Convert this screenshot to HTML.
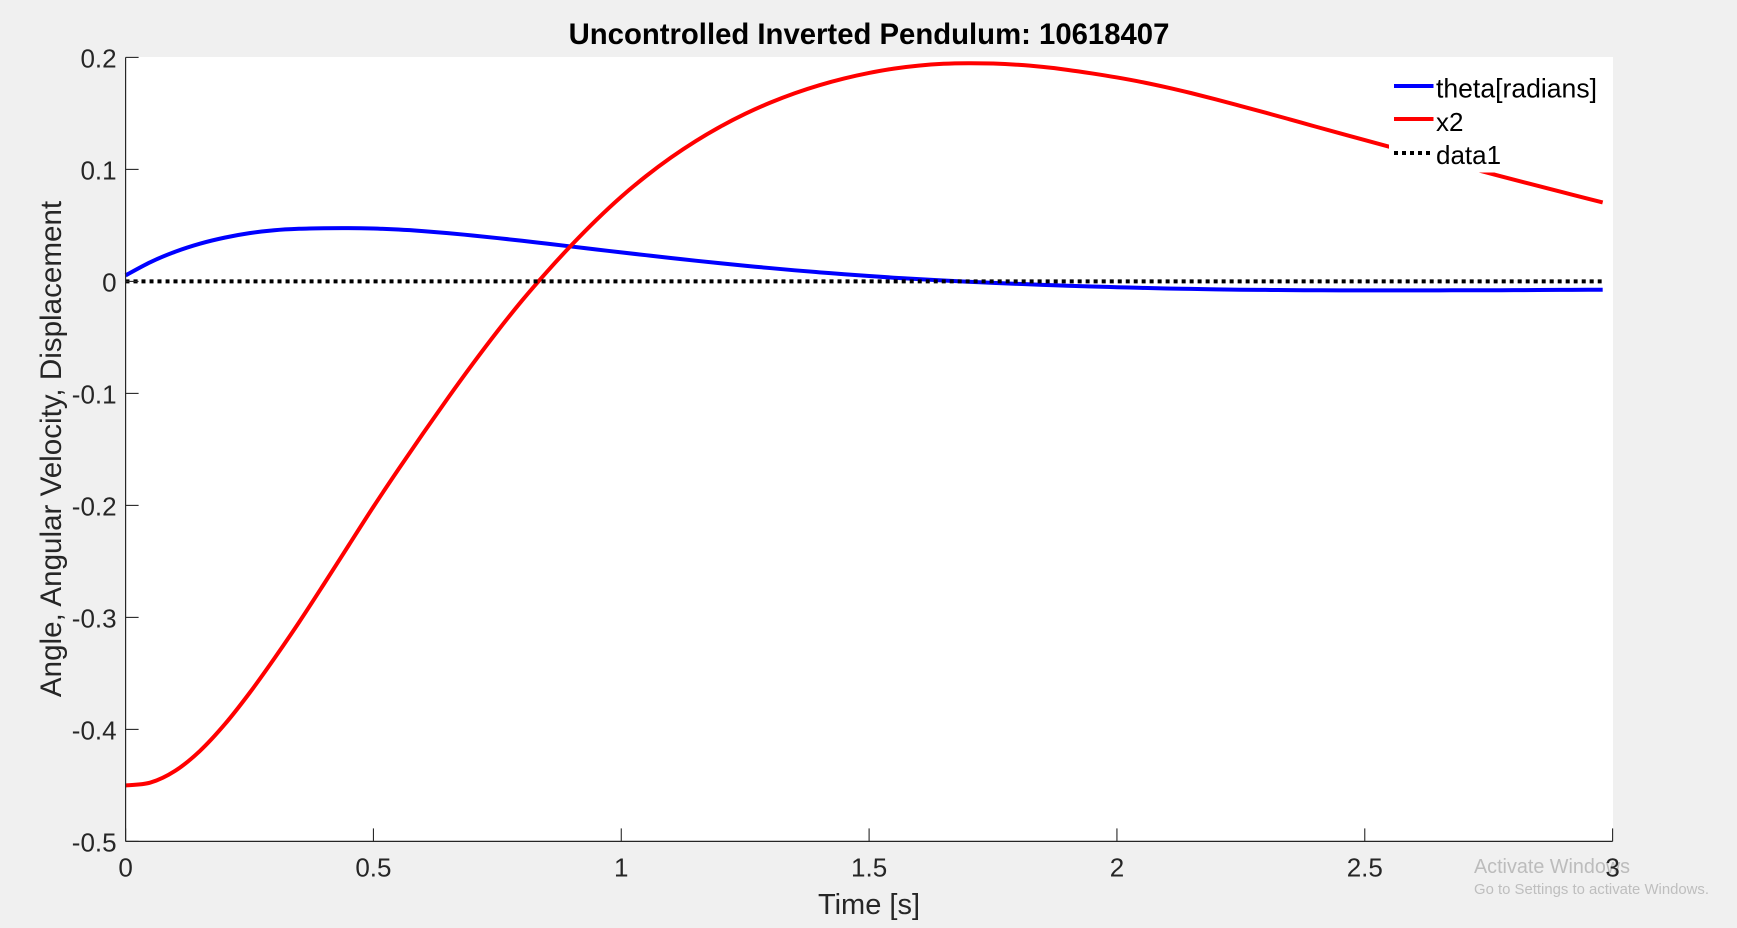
<!DOCTYPE html>
<html lang="en">
<head>
<meta charset="utf-8">
<title>Uncontrolled Inverted Pendulum: 10618407</title>
<style>
html,body{margin:0;padding:0;background:#f0f0f0;width:1737px;height:928px;overflow:hidden}
svg{display:block;font-family:"Liberation Sans",Arial,sans-serif}
</style>
</head>
<body>
<svg id="chart" xmlns="http://www.w3.org/2000/svg" width="1737" height="928" viewBox="0 0 1737 928">
  <rect x="0" y="0" width="1737" height="928" fill="#f0f0f0"/>
  <rect x="125" y="57" width="1488" height="784" fill="#ffffff"/>
  <g id="watermark">
    <text x="1474" y="873" font-size="20" fill="#bcbcbc" textLength="156" lengthAdjust="spacingAndGlyphs">Activate Windows</text>
    <text x="1474" y="894" font-size="15" fill="#bebebe" textLength="235" lengthAdjust="spacingAndGlyphs">Go to Settings to activate Windows.</text>
  </g>
  <g id="series"></g>
  <g id="axes"></g>
  <text x="869" y="44" font-size="29.3" font-weight="bold" fill="#000" text-anchor="middle">Uncontrolled Inverted Pendulum: 10618407</text>
  <text x="869" y="914" font-size="29" fill="#262626" text-anchor="middle">Time [s]</text>
  <text transform="translate(61 449) rotate(-90)" font-size="29.6" fill="#262626" text-anchor="middle">Angle, Angular Velocity, Displacement</text>
  <g id="legend">
    <rect x="1389" y="66" width="214" height="106.5" fill="#ffffff"/>
    <line x1="1394" y1="86" x2="1433.5" y2="86" stroke="#0000ff" stroke-width="4"/>
    <text x="1436" y="97.5" font-size="26.5" fill="#000" textLength="161" lengthAdjust="spacingAndGlyphs">theta[radians]</text>
    <line x1="1394" y1="119" x2="1433.5" y2="119" stroke="#ff0000" stroke-width="4"/>
    <text x="1436" y="131" font-size="26" fill="#000">x2</text>
    <line x1="1394" y1="153" x2="1433.5" y2="153" stroke="#000000" stroke-width="4" stroke-dasharray="4 4"/>
    <text x="1436" y="164" font-size="26" fill="#000">data1</text>
  </g>
</svg>
<script>
const timeValues = [0,0.05,0.1,0.15,0.2,0.25,0.3,0.35,0.4,0.45,0.5,0.55,0.6,0.65,0.7,0.75,0.8,0.85,0.9,0.95,1,1.05,1.1,1.15,1.2,1.25,1.3,1.35,1.4,1.45,1.5,1.55,1.6,1.65,1.7,1.75,1.8,1.85,1.9,1.95,2,2.05,2.1,2.15,2.2,2.25,2.3,2.35,2.4,2.45,2.5,2.55,2.6,2.65,2.7,2.75,2.8,2.85,2.9,2.95,2.98];
const thetaValues = [0.0054,0.0172,0.0265,0.0337,0.0391,0.0431,0.0457,0.0470,0.0475,0.0476,0.0472,0.0463,0.0449,0.0431,0.0410,0.0387,0.0363,0.0337,0.0311,0.0285,0.0259,0.0234,0.0209,0.0185,0.0162,0.0140,0.0119,0.0099,0.0081,0.0064,0.0048,0.0033,0.0020,0.0008,-0.0003,-0.0013,-0.0022,-0.0031,-0.0039,-0.0046,-0.0052,-0.0058,-0.0063,-0.0067,-0.0071,-0.0074,-0.0076,-0.0078,-0.0079,-0.0080,-0.0080,-0.0080,-0.0080,-0.0080,-0.0079,-0.0079,-0.0078,-0.0077,-0.0076,-0.0075,-0.0074];
const x2Values = [-0.45,-0.4475,-0.4370,-0.4192,-0.3955,-0.3675,-0.3367,-0.3043,-0.2703,-0.2357,-0.2012,-0.1681,-0.1358,-0.1043,-0.0738,-0.0446,-0.0170,0.0086,0.0326,0.0550,0.0756,0.0940,0.1105,0.1252,0.1382,0.1496,0.1595,0.1680,0.1752,0.1812,0.1861,0.1900,0.1927,0.1943,0.1948,0.1945,0.1934,0.1915,0.1889,0.1857,0.1821,0.1780,0.1733,0.1681,0.1625,0.1566,0.1506,0.1445,0.1383,0.1322,0.1262,0.1202,0.1143,0.1084,0.1025,0.0967,0.0909,0.0852,0.0795,0.0739,0.0705];
const data1Values = [0,0];
const data1Times = [0,2.98];
const xTickValues = [0,0.5,1,1.5,2,2.5,3];
const xTickLabels = ["0","0.5","1","1.5","2","2.5","3"];
const yTickValues = [-0.5,-0.4,-0.3,-0.2,-0.1,0,0.1,0.2];
const yTickLabels = ["-0.5","-0.4","-0.3","-0.2","-0.1","0","0.1","0.2"];

const NS = "http://www.w3.org/2000/svg";
const plotLeft = 125.6, plotRight = 1612.6, plotTop = 57.4, plotBottom = 841.4;
const xMin = 0, xMax = 3, yMin = -0.5, yMax = 0.2;
function xScale(v){ return plotLeft + (v - xMin) / (xMax - xMin) * (plotRight - plotLeft); }
function yScale(v){ return plotBottom - (v - yMin) / (yMax - yMin) * (plotBottom - plotTop); }

function smoothPath(xs, ys){
  const p = xs.map((x, i) => [xScale(x), yScale(ys[i])]);
  let d = "M" + p[0][0].toFixed(2) + " " + p[0][1].toFixed(2);
  for (let i = 0; i < p.length - 1; i++) {
    const a = p[Math.max(i - 1, 0)], b = p[i], c = p[i + 1], e = p[Math.min(i + 2, p.length - 1)];
    const c1x = b[0] + (c[0] - a[0]) / 6, c1y = b[1] + (c[1] - a[1]) / 6;
    const c2x = c[0] - (e[0] - b[0]) / 6, c2y = c[1] - (e[1] - b[1]) / 6;
    d += "C" + c1x.toFixed(2) + " " + c1y.toFixed(2) + " " + c2x.toFixed(2) + " " + c2y.toFixed(2) + " " + c[0].toFixed(2) + " " + c[1].toFixed(2);
  }
  return d;
}

const seriesGroup = document.getElementById("series");
const axesGroup = document.getElementById("axes");

const thetaLine = document.createElementNS(NS, "path");
thetaLine.setAttribute("d", smoothPath(timeValues, thetaValues));
thetaLine.setAttribute("fill", "none");
thetaLine.setAttribute("stroke", "#0000ff");
thetaLine.setAttribute("stroke-width", "4");


seriesGroup.appendChild(thetaLine);

const x2Line = document.createElementNS(NS, "path");
x2Line.setAttribute("d", smoothPath(timeValues, x2Values));
x2Line.setAttribute("fill", "none");
x2Line.setAttribute("stroke", "#ff0000");
x2Line.setAttribute("stroke-width", "4");


seriesGroup.appendChild(x2Line);

const data1Line = document.createElementNS(NS, "path");
data1Line.setAttribute("d", smoothPath(data1Times, data1Values));
data1Line.setAttribute("fill", "none");
data1Line.setAttribute("stroke", "#000000");
data1Line.setAttribute("stroke-width", "4");
data1Line.setAttribute("stroke-dasharray", "4 4");


seriesGroup.appendChild(data1Line);

const yAxisLine = document.createElementNS(NS, "line");
yAxisLine.setAttribute("x1", plotLeft);
yAxisLine.setAttribute("x2", plotLeft);
yAxisLine.setAttribute("y1", plotTop);
yAxisLine.setAttribute("y2", plotBottom);
yAxisLine.setAttribute("stroke", "#262626");
yAxisLine.setAttribute("stroke-width", "1.2");


axesGroup.appendChild(yAxisLine);

const xAxisLine = document.createElementNS(NS, "line");
xAxisLine.setAttribute("x1", plotLeft);
xAxisLine.setAttribute("x2", plotRight);
xAxisLine.setAttribute("y1", plotBottom);
xAxisLine.setAttribute("y2", plotBottom);
xAxisLine.setAttribute("stroke", "#262626");
xAxisLine.setAttribute("stroke-width", "1.2");


axesGroup.appendChild(xAxisLine);

xTickValues.forEach((v, i) => {
  const tick = document.createElementNS(NS, "line");
  tick.setAttribute("x1", xScale(v));
  tick.setAttribute("x2", xScale(v));
  tick.setAttribute("y1", plotBottom);
  tick.setAttribute("y2", plotBottom - 13);
  tick.setAttribute("stroke", "#262626");
  tick.setAttribute("stroke-width", "1.1");
  
  
  axesGroup.appendChild(tick);
  const label = document.createElementNS(NS, "text");
  label.setAttribute("x", xScale(v));
  label.setAttribute("y", plotBottom + 35);
  label.setAttribute("text-anchor", "middle");
  label.setAttribute("font-size", "26");
  label.setAttribute("fill", "#262626");
  
  
  label.textContent = xTickLabels[i];
  axesGroup.appendChild(label);
});

yTickValues.forEach((v, i) => {
  const tick = document.createElementNS(NS, "line");
  tick.setAttribute("x1", plotLeft);
  tick.setAttribute("x2", plotLeft + 13);
  tick.setAttribute("y1", yScale(v));
  tick.setAttribute("y2", yScale(v));
  tick.setAttribute("stroke", "#262626");
  tick.setAttribute("stroke-width", "1.1");
  
  
  axesGroup.appendChild(tick);
  const label = document.createElementNS(NS, "text");
  label.setAttribute("x", plotLeft - 9);
  label.setAttribute("y", yScale(v) + 10);
  label.setAttribute("text-anchor", "end");
  label.setAttribute("font-size", "26");
  label.setAttribute("fill", "#262626");
  
  
  label.textContent = yTickLabels[i];
  axesGroup.appendChild(label);
});
</script>
</body>
</html>
